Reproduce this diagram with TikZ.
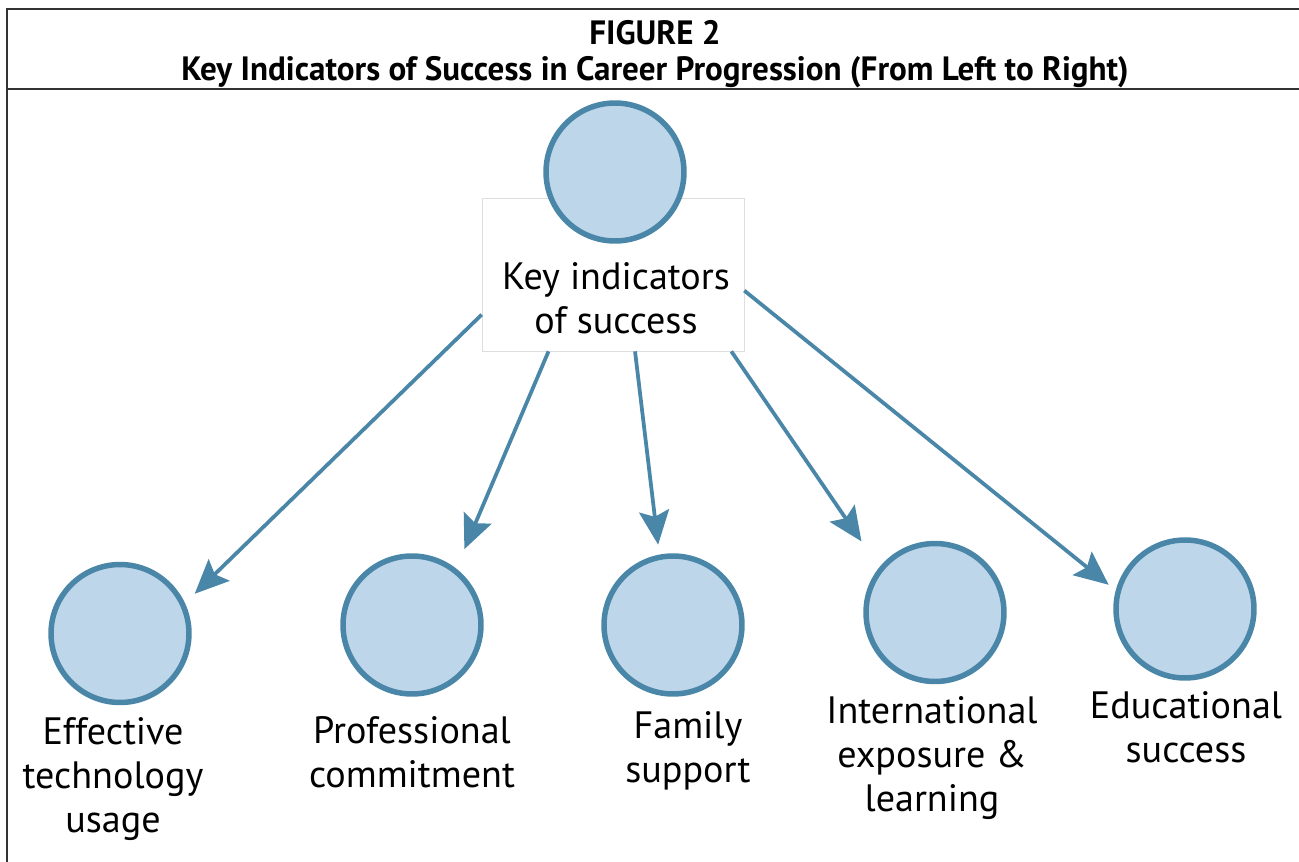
\documentclass[tikz,border=0pt]{standalone}
\usepackage{fontspec}
\setmainfont{PT Sans}
\newfontfamily\titlefont[FakeStretch=0.98]{PT Sans}
\usepackage{tikz}
\usetikzlibrary{arrows.meta}
\definecolor{ringblue}{RGB}{74,134,168}
\definecolor{discblue}{RGB}{190,214,234}
\definecolor{framegray}{RGB}{50,50,50}
\definecolor{boxgray}{RGB}{222,222,222}
\tikzset{%
  disc/.style={circle, draw=ringblue, fill=discblue, line width=0.11cm,
    minimum size=2.76cm, inner sep=0pt},% indicator circle
  keybox/.style={rectangle, draw=boxgray, fill=white, line width=0.4pt,
    minimum width=5.24cm, minimum height=3.06cm, inner sep=0pt},% box behind top text
  indicator/.style={align=center, font=\fontsize{21.7}{25}\selectfont},% text under a circle
  link/.style={ringblue, line width=0.075cm,
    -{Stealth[length=0.68cm, width=0.6cm, inset=0.12cm]}},% arrow to an indicator
  frameline/.style={framegray, line width=0.04cm}
}

\begin{document}
\begin{tikzpicture}[x=0.02cm, y=-0.02cm]
\useasboundingbox (0,0) rectangle (1299,862);
% frame and title
\draw[frameline] (1299,9) -- (7,9) -- (7,862);
\draw[frameline] (7,89) -- (1299,89);
\node[align=center, font=\titlefont\bfseries\fontsize{19.2}{20.4}\selectfont] (title) at (655,54)
  {FIGURE 2\\Key Indicators of Success in Career Progression (From Left to Right)};

\node[keybox] (key) at (613,274.5) {};
\node[disc] (top) at (615,172) {};
\node[indicator] (keytext) at (616,298) {Key indicators\\of success};

\node[disc] (c1) at (120,633.5) {};
\node[disc] (c2) at (412,625) {};
\node[disc] (c3) at (673,625) {};
\node[disc] (c4) at (935,612.5) {};
\node[disc] (c5) at (1185,609) {};

\node[indicator] (t1) at (113,779) {Effective\\technology\\usage};
\node[indicator] (t2) at (412,752) {Professional\\commitment};
\node[indicator] (t3) at (688,751) {Family\\support};
\node[indicator] (t4) at (932,758) {International\\exposure \&\\learning};
\node[indicator] (t5) at (1186,727) {Educational\\success};

\draw[link, shorten >=0.27cm] (key.197.5) -- (c1.25.5);
\draw[link, shorten >=0.42cm] (key.230.5) -- (c2.52.7);
\draw[link, shorten >=0.2cm] (key.286.7) -- (c3.101.7);
\draw[link, shorten >=0.63cm] (key.327.5) -- (c4.141.1);
\draw[link, shorten >=0.18cm] (key.353.25) -- (c5.165.4);
\end{tikzpicture}
\end{document}
